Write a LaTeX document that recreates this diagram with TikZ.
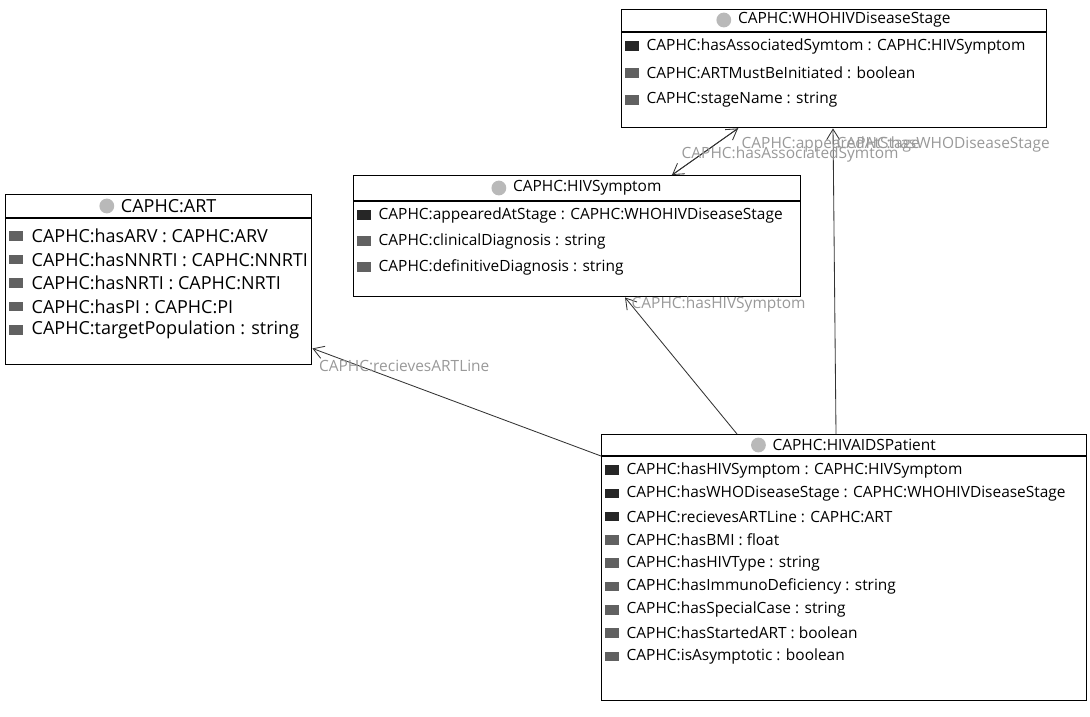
\documentclass[tikz,border=0pt]{standalone}
\usepackage{fontspec}
\setmainfont{Open Sans}
\usetikzlibrary{positioning,arrows.meta,calc}
\tikzset{
  classbox/.style={draw, line width=1pt, fill=white, anchor=north west, inner sep=0pt},
  classname/.style={font=\fontsize{11}{13}\selectfont, inner sep=1pt},
  classicon/.style={circle, fill=gray!55, minimum size=3.7mm, inner sep=0pt},
  objicon/.style={fill=black!85, minimum width=3.6mm, minimum height=2.4mm, inner sep=0pt},
  dataicon/.style={fill=black!62, minimum width=3.6mm, minimum height=2.4mm, inner sep=0pt},
  attr/.style={font=\fontsize{11}{13}\selectfont, anchor=west, inner sep=1pt},
  bigtext/.style={font=\fontsize{12.8}{15}\selectfont},
  relarrow/.style={-{Straight Barb[length=2.6mm, width=3.2mm]}, line width=0.6pt, black!80},
  rellabel/.style={font=\fontsize{11}{13}\selectfont, text=gray!80, anchor=west, inner sep=1pt}
}

\begin{document}
\begin{tikzpicture}[x=0.25mm, y=-0.25mm]
  \useasboundingbox[fill=white] (0,0) rectangle (1090,716);

  % class boxes
  \node[classbox, minimum width=106.25mm, minimum height=29.5mm] (stage) at (621,9) {};
  \node[classbox, minimum width=111.75mm, minimum height=30.25mm] (sym) at (353,175) {};
  \node[classbox, minimum width=76.5mm, minimum height=42.5mm] (art) at (5,194) {};
  \node[classbox, minimum width=121.25mm, minimum height=66.5mm] (pat) at (601,434) {};

  % header lines
  \draw[line width=1pt] ($(stage.north west)+(0,23)$) -- ($(stage.north east)+(0,23)$);
  \draw[line width=1pt] ($(sym.north west)+(0,26)$) -- ($(sym.north east)+(0,26)$);
  \draw[line width=1pt] ($(art.north west)+(0,24)$) -- ($(art.north east)+(0,24)$);
  \draw[line width=1pt] ($(pat.north west)+(0,22)$) -- ($(pat.north east)+(0,22)$);

  % class names
  \node[classname] (stage-name) at ($(stage.north)+(10,11)$) {CAPHC:WHOHIVDiseaseStage};
  \node[classicon, left=1.2mm of stage-name] (stage-icon) {};
  \node[classname] (sym-name) at ($(sym.north)+(10,13)$) {CAPHC:HIVSymptom};
  \node[classicon, left=1.2mm of sym-name] (sym-icon) {};
  \node[classname, bigtext] (art-name) at ($(art.north)+(10,12)$) {CAPHC:ART};
  \node[classicon, left=1.2mm of art-name] (art-icon) {};
  \node[classname] (pat-name) at ($(pat.north)+(10,11)$) {CAPHC:HIVAIDSPatient};
  \node[classicon, left=1.2mm of pat-name] (pat-icon) {};

  % attributes
  \foreach \kind/\txt [count=\i] in {objicon/CAPHC:hasAssociatedSymtom : CAPHC:HIVSymptom,
      dataicon/CAPHC:ARTMustBeInitiated : boolean, dataicon/CAPHC:stageName : string} {
    \node[\kind] (stage-i\i) at ($(stage.north west)+(11,10+27*\i)$) {};
    \node[attr] (stage-a\i) at ($(stage.north west)+(24,10+27*\i)$) {\txt};
  }
  \foreach \kind/\txt [count=\i] in {objicon/CAPHC:appearedAtStage : CAPHC:WHOHIVDiseaseStage,
      dataicon/CAPHC:clinicalDiagnosis : string, dataicon/CAPHC:definitiveDiagnosis : string} {
    \node[\kind] (sym-i\i) at ($(sym.north west)+(11,14+26*\i)$) {};
    \node[attr] (sym-a\i) at ($(sym.north west)+(24,14+26*\i)$) {\txt};
  }
  \foreach \kind/\txt [count=\i] in {dataicon/CAPHC:hasARV : CAPHC:ARV,
      dataicon/CAPHC:hasNNRTI : CAPHC:NNRTI, dataicon/CAPHC:hasNRTI : CAPHC:NRTI,
      dataicon/CAPHC:hasPI : CAPHC:PI, dataicon/CAPHC:targetPopulation : string} {
    \node[\kind] (art-i\i) at ($(art.north west)+(11,18.5+23.5*\i)$) {};
    \node[attr, bigtext] (art-a\i) at ($(art.north west)+(25,18.5+23.5*\i)$) {\txt};
  }
  \foreach \kind/\txt [count=\i] in {objicon/CAPHC:hasHIVSymptom : CAPHC:HIVSymptom,
      objicon/CAPHC:hasWHODiseaseStage : CAPHC:WHOHIVDiseaseStage,
      objicon/CAPHC:recievesARTLine : CAPHC:ART, dataicon/CAPHC:hasBMI : float,
      dataicon/CAPHC:hasHIVType : string, dataicon/CAPHC:hasImmunoDeficiency : string,
      dataicon/CAPHC:hasSpecialCase : string, dataicon/CAPHC:hasStartedART : boolean,
      dataicon/CAPHC:isAsymptotic : boolean} {
    \node[\kind] (pat-i\i) at ($(pat.north west)+(11,12.7+23.3*\i)$) {};
    \node[attr] (pat-a\i) at ($(pat.north west)+(24,12.7+23.3*\i)$) {\txt};
  }

  % relations
  \draw[relarrow] ($(sym.north west)+(319,0)$) -- ($(stage.south west)+(117,0)$);
  \draw[relarrow] ($(stage.south west)+(117,0)$) -- ($(sym.north west)+(319,0)$);
  \draw[relarrow] ($(pat.north west)+(235,0)$) -- ($(stage.south west)+(212,0)$);
  \draw[relarrow] ($(pat.north west)+(136,0)$) -- ($(sym.south west)+(272,0)$);
  \draw[relarrow] ($(pat.north west)+(0,22)$) -- ($(art.south east)+(0,-17)$);

  \node[rellabel] (l-appeared) at ($(stage.south west)+(119,16)$) {CAPHC:appearedAtStage};
  \node[rellabel] (l-assoc) at ($(sym.north west)+(327,-21)$) {CAPHC:hasAssociatedSymtom};
  \node[rellabel] (l-stage) at ($(stage.south west)+(214,16)$) {CAPHC:hasWHODiseaseStage};
  \node[rellabel] (l-symptom) at ($(sym.south west)+(277,7)$) {CAPHC:hasHIVSymptom};
  \node[rellabel] (l-art) at ($(art.south east)+(5,1)$) {CAPHC:recievesARTLine};
\end{tikzpicture}
\end{document}
